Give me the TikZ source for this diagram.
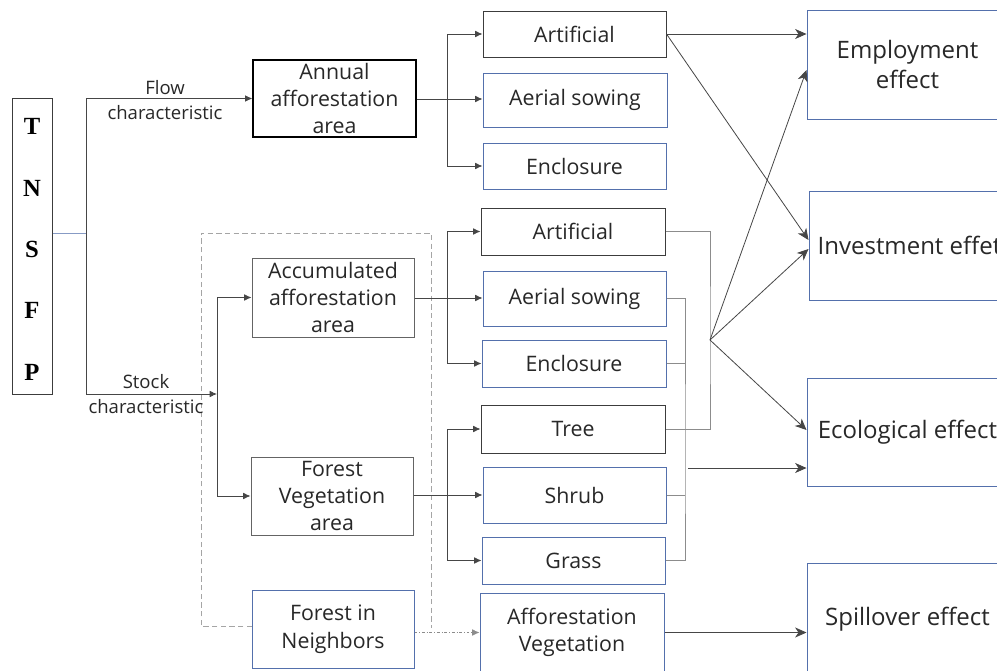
\documentclass[tikz,border=0pt]{standalone}
\usepackage{fontspec}
\setmainfont{Open Sans}
\newfontfamily\tnfont{Liberation Serif}
\usetikzlibrary{arrows.meta,calc}
\definecolor{bboxc}{RGB}{84,112,172}
\definecolor{dboxc}{RGB}{60,60,60}
\definecolor{gboxc}{RGB}{100,100,100}
\definecolor{connc}{RGB}{70,70,70}
\definecolor{brkc}{RGB}{140,140,140}
\definecolor{txtc}{RGB}{40,40,40}
\definecolor{dashc}{RGB}{165,165,165}
\begin{document}
\begin{tikzpicture}[x=0.75pt,y=-0.75pt,
  box/.style={draw, fill=white, align=center, inner sep=0pt, text=txtc, line width=0.75pt},
  dk/.style={box, draw=dboxc},
  gy/.style={box, draw=gboxc},
  bl/.style={box, draw=bboxc},
  midtxt/.style={font=\fontsize{16}{20.6}\selectfont},
  efftxt/.style={font=\fontsize{18}{22.5}\selectfont},
  lbl/.style={align=center, inner sep=0pt, text=txtc, font=\fontsize{13.9}{18.75}\selectfont},
  plain/.style={draw=connc, line width=0.6pt},
  arr/.style={plain, -{Latex[length=5.5pt,width=5pt]}},
  sarr/.style={plain, -{Stealth[length=8.5pt,width=7.5pt,inset=2.5pt]}},
  brk/.style={draw=brkc, line width=0.7pt},
]
\useasboundingbox (0,0) rectangle (997,671);
\fill[white] (0,0) rectangle (997,671);
\clip (0,0) rectangle (997,671);

% dashed grouping frame
\coordinate (dA) at (252,626);
\coordinate (dB) at (201,626);
\coordinate (dC) at (201,233);
\coordinate (dD) at (431,233);
\coordinate (dE) at (431,628);
\draw[dashc, line width=0.7pt, dash pattern=on 4pt off 2.5pt] (dA) -- (dB) -- (dC) -- (dD) -- (dE);

% left column
\node[dk, minimum width=30pt, minimum height=222pt, text=black] (tnsfp) at (32,246) {};
\node[align=center, inner sep=0pt, font=\tnfont\bfseries\fontsize{18.5}{46}\selectfont, text=black] (tnsfptxt) at (32,249.5) {T\\N\\S\\F\\P};

\node[box, midtxt, draw=black, line width=0.9pt, minimum width=122.25pt, minimum height=57.75pt] (annual) at (334.5,98.5) {Annual\\afforestation\\area};
\node[gy, midtxt, minimum width=121.5pt, minimum height=59.25pt] (accum) at (333,297.5) {Accumulated\\afforestation\\area};
\node[gy, midtxt, minimum width=121.5pt, minimum height=58.5pt] (forveg) at (332,496) {Forest\\Vegetation\\area};
\node[bl, midtxt, minimum width=121.5pt, minimum height=58.5pt] (neigh) at (333,629) {Forest in\\Neighbors};

% middle column
\node[dk, midtxt, minimum width=137.25pt, minimum height=34.5pt] (art1) at (574.5,34) {Artificial};
\node[bl, midtxt, minimum width=138pt, minimum height=40.5pt] (aer1) at (575,100) {Aerial sowing};
\node[bl, midtxt, minimum width=137.25pt, minimum height=34.5pt] (enc1) at (574.5,166) {Enclosure};
\node[dk, midtxt, minimum width=138pt, minimum height=35.25pt] (art2) at (573,231.5) {Artificial};
\node[bl, midtxt, minimum width=137.25pt, minimum height=41.25pt] (aer2) at (574.5,298.5) {Aerial sowing};
\node[bl, midtxt, minimum width=138pt, minimum height=35.25pt] (enc2) at (574,363.5) {Enclosure};
\node[dk, midtxt, minimum width=138pt, minimum height=36pt] (tree) at (573,429) {Tree};
\node[bl, midtxt, minimum width=137.25pt, minimum height=42pt] (shrub) at (574.5,495) {Shrub};
\node[bl, midtxt, minimum width=137.25pt, minimum height=35.25pt] (grass) at (573.5,560.5) {Grass};
\node[bl, midtxt, minimum width=138pt, minimum height=59.25pt] (affveg) at (572,632.5) {Afforestation\\Vegetation};

% right column
\node[bl, efftxt, minimum width=150.75pt, minimum height=81.75pt] (emp) at (907.5,64.5) {Employment\\effect};
\node[bl, efftxt, minimum width=150.75pt, minimum height=81.75pt] (inv) at (909.5,245.5) {Investment effet};
\node[bl, efftxt, minimum width=150.75pt, minimum height=81pt] (eco) at (907.5,432) {Ecological effect};
\node[bl, efftxt, minimum width=150.75pt, minimum height=84pt] (spill) at (907.5,619) {Spillover effect};

% left connectors
\coordinate (sp) at (86,233);
\coordinate (stk) at (217,394);
\draw[plain, draw=bboxc!70] (tnsfp.east |- sp) -- (sp);
\draw[arr] (sp) |- (annual.west);
\draw[arr] (sp) |- (stk);
\draw[arr] (stk) |- (accum.west);
\draw[arr] (stk) |- (forveg.west);
\node[lbl] (flowlbl) at (165,100.5) {Flow\\characteristic};
\node[lbl] (stocklbl) at (146,394.5) {Stock\\characteristic};

% branches to middle column
\coordinate (b1) at (447,99);
\coordinate (b2) at (447,298);
\coordinate (b3) at (447,495);
\draw[arr] (annual.east |- b1) -- (b1 -| aer1.west);
\draw[arr] (b1) |- (art1.west);
\draw[arr] (b1) |- (enc1.west);
\draw[arr] (accum.east |- b2) -- (b2 -| aer2.west);
\draw[arr] (b2) |- (art2.west);
\draw[arr] (b2) |- (enc2.west);
\draw[arr] (forveg.east |- b3) -- (b3 -| shrub.west);
\draw[arr] (b3) |- (tree.west);
\draw[arr] (b3) |- (grass.west);
\draw[arr, dash pattern=on 2pt off 1.5pt on 0.6pt off 1.5pt, draw=brkc] (neigh.east |- affveg.west) -- (affveg.west);

% right connectors
\draw[sarr] (art1.east) -- (art1.east -| emp.west);
\draw[sarr] (art1.east) -- ($(inv.west)+(0,-5.5)$);

\coordinate (J) at (710,340);
\draw[brk] (art2.east) -| (J) |- (tree.east);
\draw[sarr] (J) -- ($(emp.west)+(0,5.5)$);
\draw[sarr] (J) -- ($(inv.west)+(0,3.5)$);
\draw[sarr] (J) -- ($(eco.west)+(0,-2)$);

\coordinate (K) at (685,468);
\draw[brk] (aer2.east) -| (K) |- (grass.east);
\draw[brk] (enc2.east) -- (enc2.east -| K);
\draw[brk] (shrub.east) -- (shrub.east -| K);
\draw[sarr] ($(K)+(3,0)$) -- (K -| eco.west);

\draw[sarr] (affveg.east) -- (affveg.east -| spill.west);
\end{tikzpicture}
\end{document}
